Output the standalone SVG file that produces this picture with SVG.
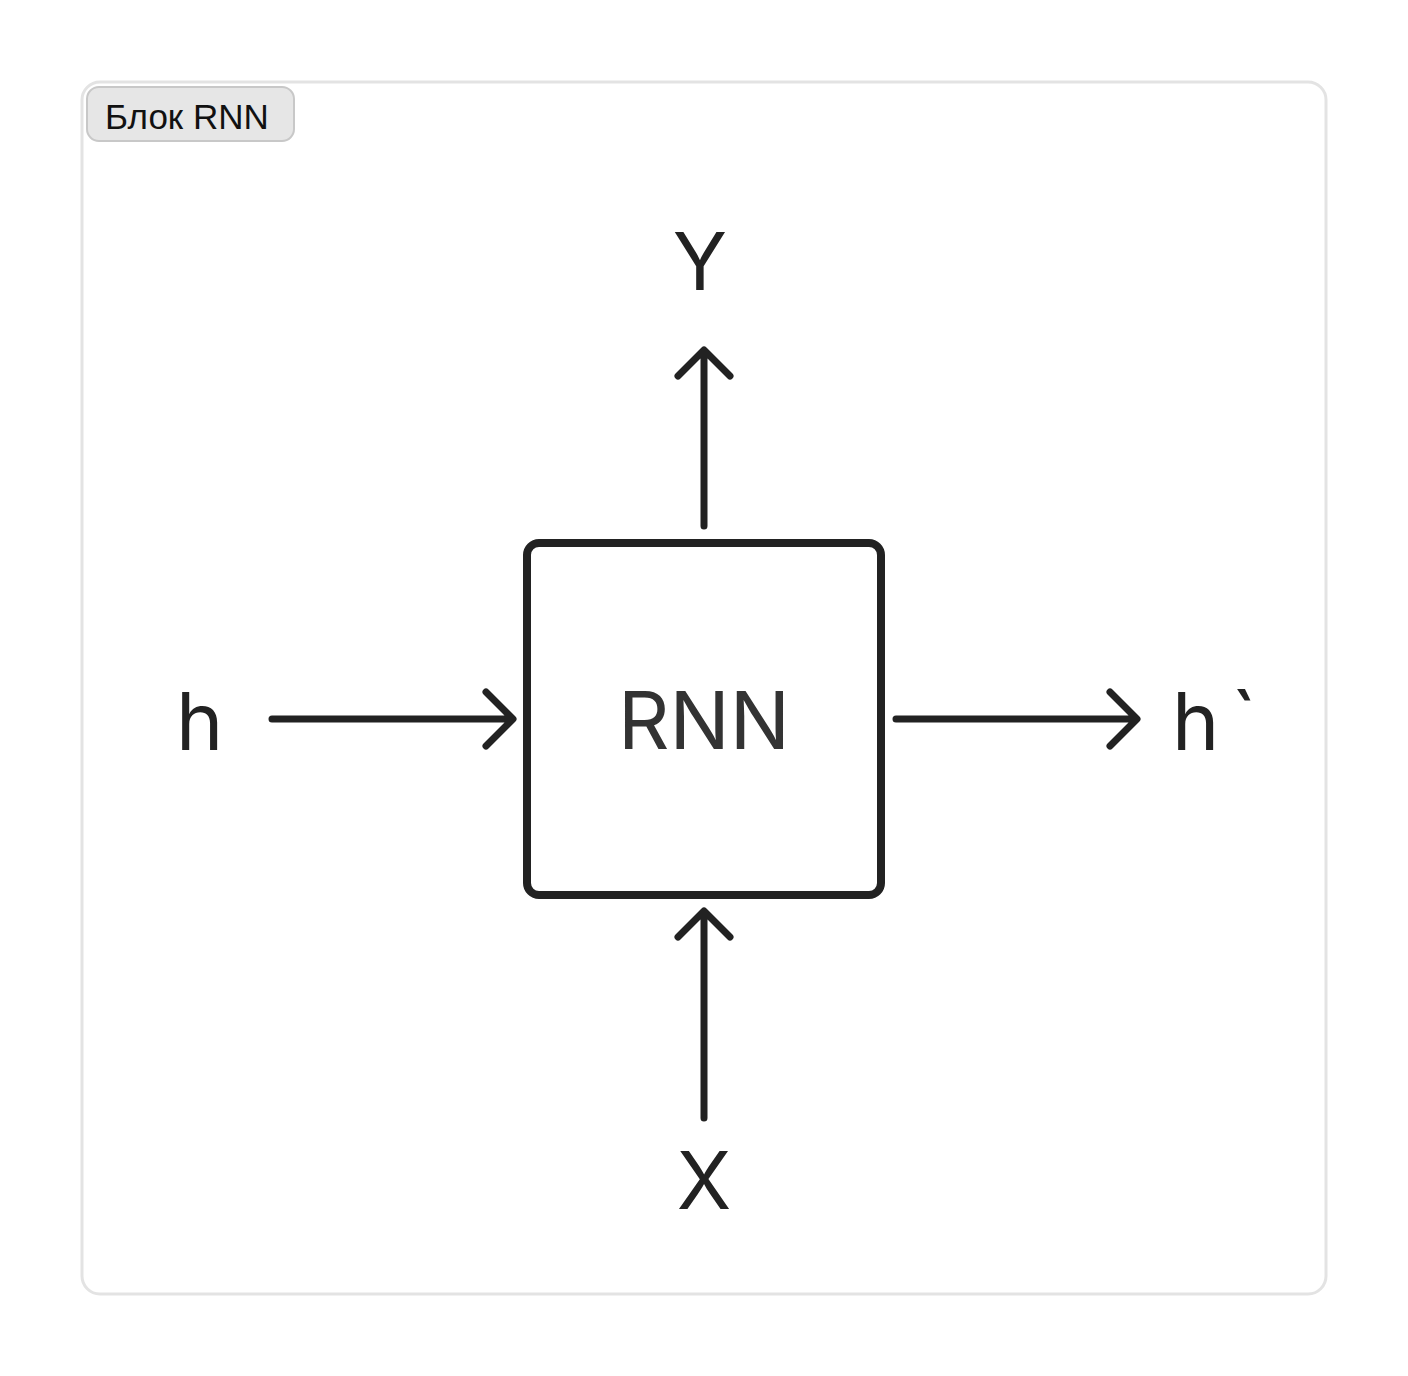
<svg xmlns="http://www.w3.org/2000/svg" width="1408" height="1376" viewBox="0 0 1408 1376">
<style>
.lbl{font-family:Inter,"Liberation Sans",sans-serif;font-size:80px;fill:#222}
.conn{stroke:#222;stroke-width:7;fill:none;stroke-linecap:round;stroke-linejoin:round}
</style>
<rect x="0" y="0" width="1408" height="1376" fill="#ffffff"/>
<g id="frame">
<rect x="82" y="82" width="1244" height="1212" rx="18" fill="#ffffff" stroke="#e3e3e3" stroke-width="3"/>
<rect x="87" y="87" width="207" height="54" rx="12" fill="#e6e6e6" stroke="#c8c8c8" stroke-width="2"/>
<text x="105" y="129" font-family="'Liberation Sans',Arial,sans-serif" font-size="35" fill="#111">Блок RNN</text>
</g>
<g id="rnn">
<rect x="527" y="543" width="354" height="352" rx="12" fill="#ffffff" stroke="#222" stroke-width="8"/>
<text x="704" y="749" text-anchor="middle" font-family="Inter,'Liberation Sans',sans-serif" font-size="80" fill="#333">RNN</text>
</g>
<g id="label-y"><text class="lbl" x="700" y="290" text-anchor="middle">Y</text></g>
<g id="label-x"><text class="lbl" x="704" y="1209" text-anchor="middle">X</text></g>
<g id="label-h"><text class="lbl" x="176" y="750">h</text></g>
<g id="label-h2"><text class="lbl" x="1172" y="750">h<tspan dx="12">`</tspan></text></g>
<g id="connectors">
<path class="conn" d="M704 526 V352 M678 376 L704 350 L730 376"/>
<path class="conn" d="M704 1118 V912 M678 937 L704 911 L730 937"/>
<path class="conn" d="M272 719 H512 M486 692 L513 719 L486 746"/>
<path class="conn" d="M896 719 H1136 M1110 692 L1137 719 L1110 746"/>
</g>
</svg>
